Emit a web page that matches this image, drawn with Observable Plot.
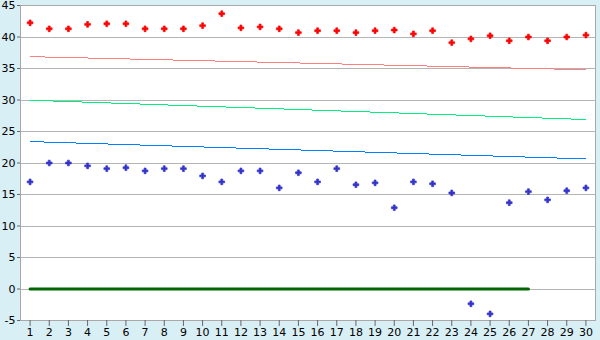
<!DOCTYPE html>
<html>
<head>
<meta charset="utf-8">
<script src="https://cdn.jsdelivr.net/npm/d3@7"></script>
<script src="https://cdn.jsdelivr.net/npm/@observablehq/plot@0.6"></script>
<style>
  html, body { margin: 0; padding: 0; background: #d9eff6; }
</style>
</head>
<body>
<div id="chart"></div>
<script>
// Categories (x) and tick labels
const categories = [1,2,3,4,5,6,7,8,9,10,11,12,13,14,15,16,17,18,19,20,21,22,23,24,25,26,27,28,29,30];
const yTicks = [-5,0,5,10,15,20,25,30,35,40,45];

// Point series
const redValues = [42.25,41.3,41.3,42.0,42.1,42.1,41.3,41.3,41.3,41.8,43.7,41.45,41.6,41.3,40.7,
                   41.0,41.0,40.7,41.0,41.1,40.5,41.0,39.1,39.7,40.2,39.4,40.0,39.4,40.0,40.3];
const blueValues = [17.0,20.0,20.0,19.55,19.1,19.25,18.75,19.1,19.1,17.95,17.0,18.75,18.75,16.05,18.45,
                    17.0,19.1,16.55,16.85,12.9,17.0,16.7,15.25,-2.35,-3.95,13.7,15.45,14.15,15.6,16.05];

// Trend lines (values at first and last category)
const trendX = [1, 30];
const redTrend = [36.88, 34.8];
const greenTrend = [29.97, 26.9];
const blueTrend = [23.4, 20.65];

// Zero line
const zeroX = [1, 27];
const zeroY = [0, 0];

const pts = (xs, ys) => xs.map((x, i) => ({x, y: ys[i]}));

const chart = Plot.plot({
  width: 600,
  height: 340,
  marginLeft: 20,
  marginRight: 5,
  marginTop: 5,
  marginBottom: 20,
  style: { background: "#d9eff6", fontFamily: "DejaVu Sans, Verdana, sans-serif", fontSize: "11px", color: "#000" },
  x: { domain: [0.5, 30.5], label: null },
  y: { domain: [-5, 45], label: null },
  marks: [
    Plot.frame({ fill: "white", stroke: null }),
    Plot.ruleY(yTicks, { stroke: "#b4b4b4", strokeWidth: 1, shapeRendering: "crispEdges" }),
    Plot.line(pts(zeroX, zeroY), { x: "x", y: "y", stroke: "#006400", strokeWidth: 3 }),
    Plot.line(pts(trendX, redTrend), { x: "x", y: "y", stroke: "#ff8080", strokeWidth: 1, shapeRendering: "crispEdges" }),
    Plot.line(pts(trendX, greenTrend), { x: "x", y: "y", stroke: "#00f080", strokeWidth: 1, shapeRendering: "crispEdges" }),
    Plot.line(pts(trendX, blueTrend), { x: "x", y: "y", stroke: "#0080ff", strokeWidth: 1, shapeRendering: "crispEdges" }),
    Plot.dot(pts(categories, redValues), { x: "x", y: "y", symbol: "cross", r: 2.4, fill: "#ff0000", stroke: "#ff0000", strokeWidth: 0.7 }),
    Plot.dot(pts(categories, blueValues), { x: "x", y: "y", symbol: "cross", r: 2.4, fill: "#3333cc", stroke: "#3333cc", strokeWidth: 0.7 }),
    Plot.frame({ stroke: "#a8a8a8", fill: null, shapeRendering: "crispEdges" }),
    Plot.axisX(categories, { tickSize: 6, tickPadding: 2, stroke: "#666", fill: "#000", tickFormat: d => String(d), label: null }),
    Plot.axisY(yTicks, { tickSize: 3, tickPadding: 2, stroke: "#666", fill: "#000", tickFormat: d => String(d), label: null })
  ]
});
document.getElementById("chart").appendChild(chart);
</script>
</body>
</html>
